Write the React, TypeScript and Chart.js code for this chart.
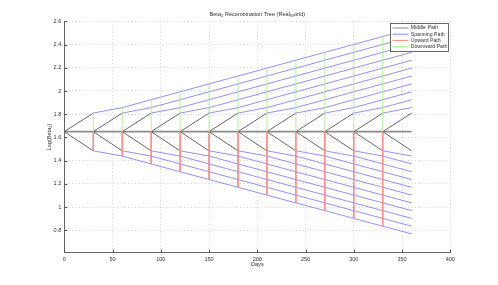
import React, { useEffect, useRef } from "react";
import { Chart, registerables } from "chart.js";

Chart.register(...registerables);

// ---- data ----
const DAYS = [0, 30, 60, 90, 120, 150, 180, 210, 240, 270, 300, 330, 360];
const MIDDLE_VALUE = 1.65;
const UP_NODE = 1.81;
const DOWN_NODE = 1.485;
// value of a spanning path k steps after it leaves the up / down node
const UPPER_PATH = [1.81, 1.857, 1.925, 1.993, 2.061, 2.129, 2.197, 2.265, 2.333, 2.401, 2.469, 2.537];
const LOWER_PATH = [1.485, 1.44, 1.372, 1.305, 1.238, 1.171, 1.104, 1.037, 0.97, 0.903, 0.836, 0.77];
const X_TICKS = [0, 50, 100, 150, 200, 250, 300, 350, 400];
const Y_TICKS = [0.8, 1, 1.2, 1.4, 1.6, 1.8, 2, 2.2, 2.4, 2.6];
const LEGEND_LABELS = ["Middle Path", "Spanning Path", "Upward Path", "Downward Path"];

const COL_MIDDLE = "#8c8c8c";
const COL_DIAG = "#555555";
const COL_BLUE = "#8585ff";
const COL_RED = "#ff8585";
const COL_GREEN = "#acef88";
const LEGEND_COLORS = [COL_MIDDLE, COL_BLUE, COL_RED, COL_GREEN];

const FONT = "'Liberation Sans', Arial, Helvetica, sans-serif";
const TEXT_COL = "#333";

type P = { x: number; y: number | null };

function buildData() {
  const middle: P[] = [
    { x: DAYS[0], y: MIDDLE_VALUE },
    { x: DAYS[DAYS.length - 1], y: MIDDLE_VALUE },
  ];
  const diag: P[] = [];
  for (let i = 0; i < DAYS.length - 1; i++) {
    diag.push({ x: DAYS[i + 1], y: UP_NODE });
    diag.push({ x: DAYS[i], y: MIDDLE_VALUE });
    diag.push({ x: DAYS[i + 1], y: DOWN_NODE });
    diag.push({ x: DAYS[i + 1], y: null });
  }
  const span: P[] = [];
  for (let j = 1; j < DAYS.length - 1; j++) {
    for (let k = 0; j + k < DAYS.length; k++) span.push({ x: DAYS[j + k], y: UPPER_PATH[k] });
    span.push({ x: DAYS[DAYS.length - 1], y: null });
    for (let k = 0; j + k < DAYS.length; k++) span.push({ x: DAYS[j + k], y: LOWER_PATH[k] });
    span.push({ x: DAYS[DAYS.length - 1], y: null });
  }
  const red: P[] = [];
  const green: P[] = [];
  for (let j = 1; j < DAYS.length - 1; j++) {
    red.push({ x: DAYS[j], y: MIDDLE_VALUE }, { x: DAYS[j], y: LOWER_PATH[j - 1] }, { x: DAYS[j], y: null });
    green.push({ x: DAYS[j], y: MIDDLE_VALUE }, { x: DAYS[j], y: UPPER_PATH[j - 1] }, { x: DAYS[j], y: null });
  }
  return { middle, diag, span, red, green };
}

type Part = { t: string; sub?: boolean };

function drawParts(ctx: CanvasRenderingContext2D, parts: Part[], size: number) {
  const sub = size * 0.75;
  let w = 0;
  for (const p of parts) {
    ctx.font = `${p.sub ? sub : size}px ${FONT}`;
    w += ctx.measureText(p.t).width;
  }
  let x = -w / 2;
  ctx.textBaseline = "middle";
  ctx.textAlign = "left";
  for (const p of parts) {
    ctx.font = `${p.sub ? sub : size}px ${FONT}`;
    ctx.fillText(p.t, x, p.sub ? size * 0.35 : 0);
    x += ctx.measureText(p.t).width;
  }
}

const TITLE: Part[] = [
  { t: "Beta" },
  { t: "2", sub: true },
  { t: " Recombination Tree (Real" },
  { t: "W", sub: true },
  { t: "orld)" },
];
const YLABEL: Part[] = [{ t: "Log(Beta" }, { t: "2", sub: true }, { t: ")" }];

const decorPlugin = {
  id: "decor",
  afterDraw(chart: any) {
    const ctx: CanvasRenderingContext2D = chart.ctx;
    const area = chart.chartArea;
    const xs = chart.scales.x;
    const ys = chart.scales.y;
    ctx.save();
    ctx.strokeStyle = "#555";
    ctx.lineWidth = 1;
    ctx.beginPath();
    for (const v of X_TICKS) {
      const px = Math.round(xs.getPixelForValue(v)) + 0.5;
      ctx.moveTo(px, area.bottom);
      ctx.lineTo(px, area.bottom - 3);
    }
    for (const v of Y_TICKS) {
      const py = Math.round(ys.getPixelForValue(v)) + 0.5;
      ctx.moveTo(area.left, py);
      ctx.lineTo(area.left + 3, py);
    }
    ctx.stroke();

    ctx.fillStyle = TEXT_COL;
    ctx.save();
    ctx.translate((area.left + area.right) / 2, 14);
    drawParts(ctx, TITLE, 5.6);
    ctx.restore();
    ctx.save();
    ctx.translate((area.left + area.right) / 2, 264);
    drawParts(ctx, [{ t: "Days" }], 5.6);
    ctx.restore();
    ctx.save();
    ctx.translate(49, (area.top + area.bottom) / 2);
    ctx.rotate(-Math.PI / 2);
    drawParts(ctx, YLABEL, 5.6);
    ctx.restore();

    const lx = 390.5, ly = 23.5, lw = 58, lh = 28;
    ctx.fillStyle = "#fff";
    ctx.fillRect(lx, ly, lw, lh);
    ctx.strokeStyle = "#444";
    ctx.lineWidth = 0.8;
    ctx.strokeRect(lx, ly, lw, lh);
    LEGEND_LABELS.forEach((lab, i) => {
      const ry = 28 + i * 6.2;
      ctx.strokeStyle = LEGEND_COLORS[i];
      ctx.lineWidth = 1;
      ctx.beginPath();
      ctx.moveTo(392.5, ry);
      ctx.lineTo(408.5, ry);
      ctx.stroke();
      ctx.fillStyle = TEXT_COL;
      ctx.font = `5.2px ${FONT}`;
      ctx.textAlign = "left";
      ctx.textBaseline = "middle";
      ctx.fillText(lab, 410.7, ry);
    });
    ctx.restore();
  },
};

export default function App() {
  const ref = useRef<HTMLCanvasElement | null>(null);
  useEffect(() => {
    document.body.style.margin = "0";
    const canvas = ref.current!;
    const d = buildData();
    const base = { pointRadius: 0, borderWidth: 0.9, tension: 0, spanGaps: false, fill: false };
    const chart = new Chart(canvas, {
      type: "line",
      data: {
        datasets: [
          { ...base, label: "Spanning Path", data: d.span as any, borderColor: COL_BLUE, order: 5 },
          { ...base, label: "Middle Path", data: d.middle as any, borderColor: COL_MIDDLE, borderWidth: 1.6, order: 4 },
          { ...base, label: "Middle diag", data: d.diag as any, borderColor: COL_DIAG, order: 3 },
          { ...base, label: "Upward Path", data: d.red as any, borderColor: COL_RED, order: 2 },
          { ...base, label: "Downward Path", data: d.green as any, borderColor: COL_GREEN, order: 1 },
        ],
      },
      options: {
        responsive: false,
        animation: false,
        events: [],
        layout: { padding: { left: 0, right: 47.7, top: 21.3, bottom: 0 } },
        plugins: { legend: { display: false }, title: { display: false }, tooltip: { enabled: false } },
        scales: {
          x: {
            type: "linear",
            min: 0,
            max: 400,
            afterBuildTicks: (s: any) => {
              s.ticks = X_TICKS.map((v) => ({ value: v }));
            },
            afterFit: (s: any) => {
              s.height = 32.3;
            },
            ticks: { font: { size: 5.6, family: FONT }, color: TEXT_COL, padding: 3, maxRotation: 0, autoSkip: false },
            grid: { color: "#d2d2d2", drawTicks: false, lineWidth: 1 },
            border: { color: "#666", width: 1, dash: [1, 2.5] },
          },
          y: {
            type: "linear",
            min: 0.608,
            max: 2.6,
            afterBuildTicks: (s: any) => {
              s.ticks = Y_TICKS.map((v) => ({ value: v }));
            },
            afterFit: (s: any) => {
              s.width = 64.3;
            },
            ticks: {
              font: { size: 5.6, family: FONT },
              color: TEXT_COL,
              padding: 3,
              autoSkip: false,
              callback: (v: any) => String(Math.round(Number(v) * 10) / 10),
            },
            grid: { color: "#d2d2d2", drawTicks: false, lineWidth: 1 },
            border: { color: "#666", width: 1, dash: [1, 2.5] },
          },
        },
      },
      plugins: [decorPlugin],
    });
    return () => chart.destroy();
  }, []);
  return (
    <div style={{ position: "fixed", left: 0, top: 0, width: 498, height: 285, background: "#fff" }}>
      <canvas ref={ref} width={498} height={285} style={{ display: "block", width: 498, height: 285 }} />
    </div>
  );
}
